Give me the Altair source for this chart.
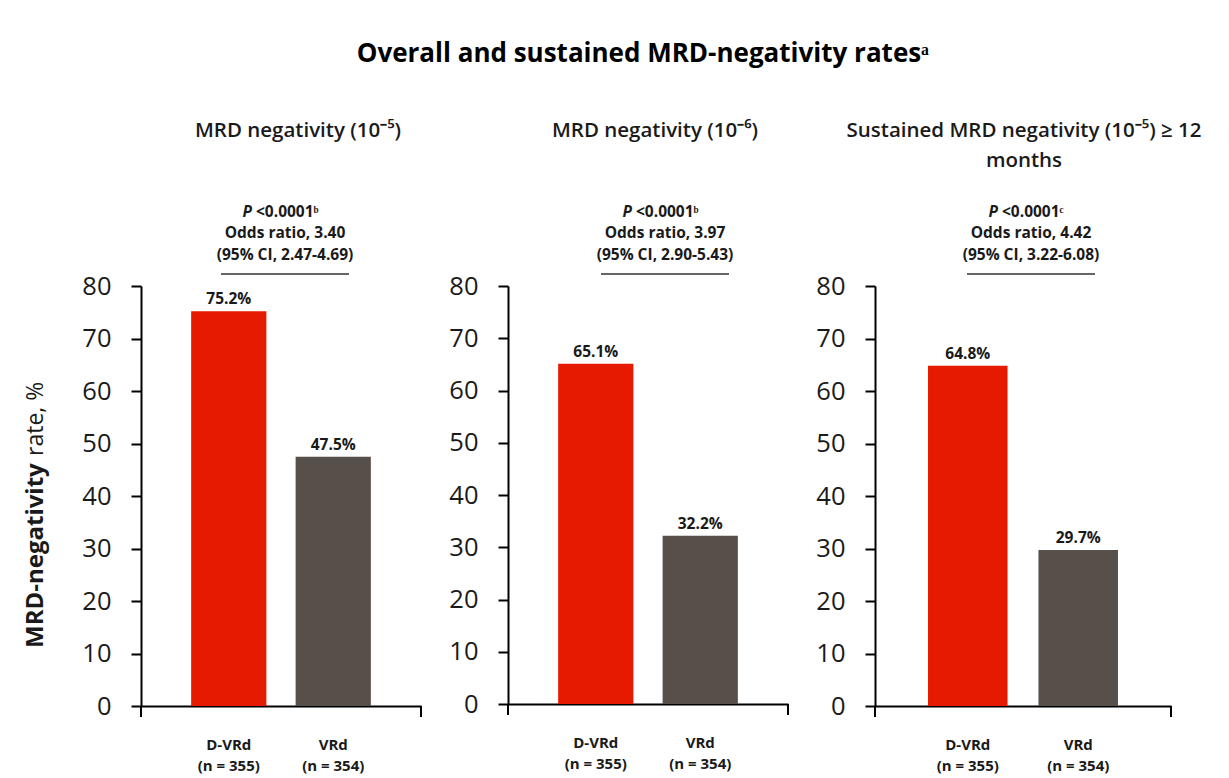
import altair as alt
import pandas as pd

# ---- data ----
groups = ["D-VRd", "VRd"]
group_n = ["(n = 355)", "(n = 354)"]
panel_titles = [
    ["MRD negativity (10⁻⁵)"],
    ["MRD negativity (10⁻⁶)"],
    ["Sustained MRD negativity (10⁻⁵) ≥ 12", "months"],
]
rates_dvrd = [75.2, 65.1, 64.8]
rates_vrd = [47.5, 32.2, 29.7]
p_values = ["<0.0001ᵇ", "<0.0001ᵇ", "<0.0001ᶜ"]
odds_ratios = ["3.40", "3.97", "4.42"]
ci_texts = ["(95% CI, 2.47-4.69)", "(95% CI, 2.90-5.43)", "(95% CI, 3.22-6.08)"]
y_ticks = [0, 10, 20, 30, 40, 50, 60, 70, 80]
main_title = "Overall and sustained MRD-negativity ratesᵃ"
y_title_bold = "MRD-negativity"
y_title_rest = "rate, %"

# ---- style ----
FONT = "Open Sans"
INK = "#1a1a1a"
bar_colors = ["#E61A00", "#574F4A"]

widths = [280, 280, 296]
heights = [420, 418, 420]
TOP = 288                       # absolute plot top in the reference
ann_cx = [144, 157, 156]        # centre of annotation block relative to plot left
sub_cx = [157, 147, 149]        # centre of panel subtitle relative to plot left
rule_half = 64
ANN = 15.5

label_expr = " : ".join(
    [f"datum.value == '{g}' ? ['{g}', '{n}']" for g, n in zip(groups[:-1], group_n[:-1])]
    + [f"['{groups[-1]}', '{group_n[-1]}']"]
)


def one_row(text):
    return alt.Chart(pd.DataFrame({"t": [text]}))


def panel(i):
    w, h = widths[i], heights[i]
    df = pd.DataFrame({
        "group": groups,
        "rate": [rates_dvrd[i], rates_vrd[i]],
    })
    df["label"] = df["rate"].map(lambda v: f"{v:.1f}%")

    x = alt.X(
        "group:N", sort=groups,
        scale=alt.Scale(paddingInner=0.28, paddingOuter=0.48),
        axis=alt.Axis(
            title=None, ticks=False, labelAngle=0, domainColor="black", domainWidth=2,
            labelFont=FONT, labelFontSize=15, labelFontWeight="bold", labelColor=INK,
            labelPadding=31, labelLineHeight=21, labelExpr=label_expr,
        ),
    )
    y = alt.Y(
        "rate:Q", scale=alt.Scale(domain=[0, 80], nice=False),
        axis=alt.Axis(
            values=y_ticks, title=None, grid=False, tickSize=10, tickColor="black",
            tickWidth=2, domainColor="black", domainWidth=2, labelFont=FONT,
            labelFontSize=25.5, labelPadding=20, labelColor=INK,
        ),
    )
    base = alt.Chart(df)
    bars = base.mark_bar().encode(
        x=x, y=y,
        color=alt.Color("group:N", scale=alt.Scale(domain=groups, range=bar_colors), legend=None),
    )
    vals = base.mark_text(
        baseline="bottom", dy=-4, font=FONT, fontSize=15.5, fontWeight="bold", color=INK
    ).encode(x=alt.X("group:N", sort=groups), y="rate:Q", text="label:N")

    layers = [bars, vals]

    # axis end ticks below baseline
    for xv in [0, w]:
        layers.append(
            one_row("").mark_rule(color="black", strokeWidth=2).encode(
                x=alt.value(xv), y=alt.value(h), y2=alt.value(h + 11)
            )
        )

    # subtitle lines
    for k, line in enumerate(panel_titles[i]):
        layers.append(
            one_row(line).mark_text(
                font=FONT, fontSize=20.5, fontWeight=600, color=INK, align="center", baseline="middle"
            ).encode(text="t:N", x=alt.value(sub_cx[i]), y=alt.value(133 + 30 * k - TOP))
        )

    cx = ann_cx[i]
    # P value line: italic P + rest
    layers.append(
        one_row("P").mark_text(
            font=FONT, fontSize=ANN, fontWeight="bold", fontStyle="italic", color=INK,
            align="right", baseline="middle",
        ).encode(text="t:N", x=alt.value(cx - 33), y=alt.value(214 - TOP))
    )
    layers.append(
        one_row(p_values[i]).mark_text(
            font=FONT, fontSize=ANN, fontWeight="bold", color=INK, align="left", baseline="middle",
        ).encode(text="t:N", x=alt.value(cx - 29), y=alt.value(214 - TOP))
    )
    layers.append(
        one_row(f"Odds ratio,  {odds_ratios[i]}").mark_text(
            font=FONT, fontSize=ANN, fontWeight="bold", color=INK, align="center", baseline="middle",
        ).encode(text="t:N", x=alt.value(cx), y=alt.value(235 - TOP))
    )
    layers.append(
        one_row(ci_texts[i]).mark_text(
            font=FONT, fontSize=ANN, fontWeight="bold", color=INK, align="center", baseline="middle",
        ).encode(text="t:N", x=alt.value(cx), y=alt.value(257 - TOP))
    )
    layers.append(
        one_row("").mark_rule(color="#666666", strokeWidth=2).encode(
            x=alt.value(cx - rule_half), x2=alt.value(cx + rule_half), y=alt.value(276 - TOP)
        )
    )

    if i == 0:
        layers.append(
            one_row(y_title_bold).mark_text(
                font=FONT, fontSize=24, fontWeight="bold", color=INK, angle=270,
                align="left", baseline="middle",
            ).encode(text="t:N", x=alt.value(-105), y=alt.value(650 - TOP))
        )
        layers.append(
            one_row(y_title_rest).mark_text(
                font=FONT, fontSize=23, fontWeight="normal", color=INK, angle=270,
                align="left", baseline="middle",
            ).encode(text="t:N", x=alt.value(-105), y=alt.value(458 - TOP))
        )

    return alt.layer(*layers).properties(width=w, height=h)


chart = alt.hconcat(panel(0), panel(1), panel(2), spacing=26).properties(
    title=alt.TitleParams(
        text=main_title, font=FONT, fontSize=26, fontWeight="bold", color="black",
        anchor="middle", dx=30, offset=54,
    ),
    padding={"left": 16, "top": 33, "right": 5, "bottom": 5},
).configure(background="white").configure_view(stroke="transparent", strokeWidth=0)

chart.save("out.html", embed_options={"renderer": "svg", "actions": False})
